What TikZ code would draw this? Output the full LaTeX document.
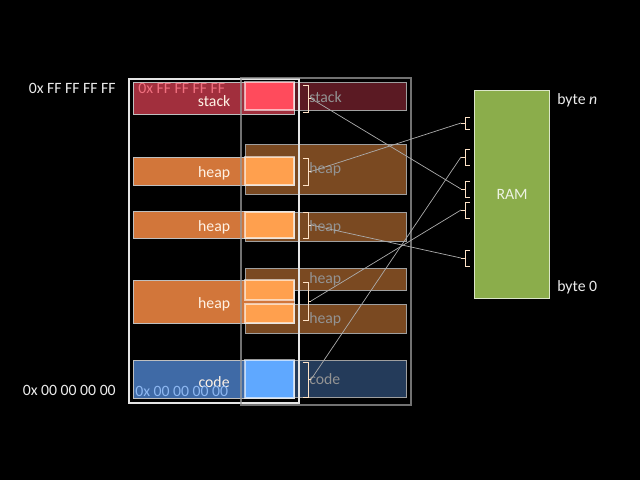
\documentclass[tikz,border=0pt]{standalone}
\usepackage{fontspec}
\setmainfont{Carlito}
\usepackage{tikz}
\usetikzlibrary{positioning}
\definecolor{stackred}{HTML}{A12F3D}
\definecolor{stacklit}{HTML}{FF4B5C}
\definecolor{stackdim}{HTML}{5B1A23}
\definecolor{heaporg}{HTML}{D2763A}
\definecolor{heaplit}{HTML}{FFA04E}
\definecolor{heapdim}{HTML}{7A4921}
\definecolor{codeblue}{HTML}{3F6AA6}
\definecolor{codelit}{HTML}{5FA8FF}
\definecolor{codedim}{HTML}{243B5A}
\definecolor{ramgreen}{HTML}{8BAD4B}
\definecolor{addrpink}{HTML}{F0707F}
\definecolor{addrblue}{HTML}{8EB8F2}
\tikzset{
	x=0.025cm, y=-0.025cm, % one unit is one pixel, y runs downwards
	every node/.style={font=\fontsize{11.2}{13}\selectfont, inner sep=0pt}, % all text in one size
	seg/.style 2 args={anchor=north west, minimum width=#1*0.025cm, minimum height=#2*0.025cm}, % box of #1 x #2 pixels
	vbox/.style={draw=white!75!black, line width=0.9pt, text=white!90!orange}, % segment in the left column
	pbox/.style={draw=gray!75!white, line width=1pt}, % segment in the right column
	lit/.style={draw=white, draw opacity=0.6, line width=0.8pt}, % where both columns overlap
	dimtxt/.style={text=gray!85!white}, % labels of the right column
	txt/.style={text=white!92!black}, % plain white labels
	brak/.style={draw=white!78!orange, line width=0.6pt}, % brackets
	link/.style={draw=gray!65!white, line width=0.5pt}, % mapping lines
}

\begin{document}
\begin{tikzpicture}
	\fill[black] (0,0) rectangle (640,480);
	\useasboundingbox (0,0) rectangle (640,480);

	% right column
	\foreach \n/\y/\h/\c/\t in {stack/82/28/stackdim/stack, heap1/144/50/heapdim/heap, heap2/212/29/heapdim/heap, heap3/268/22/heapdim/heap, heap4/304/29/heapdim/heap, code/360/37/codedim/code}
	{
		\node[pbox, fill=\c, seg={161}{\h}] (r\n) at (245,\y) {};
		\node[dimtxt, anchor=west] (t\n) at ([xshift=1.6cm]r\n.west) {\t};
	}

	% left column
	\foreach \n/\y/\h/\c/\t in {stack/82/32/stackred/stack, heap1/157/28/heaporg/heap, heap2/211/27/heaporg/heap, heap3/280/43/heaporg/heap, code/360/38/codeblue/code}
	{
		\node[vbox, fill=\c, seg={161}{\h}] (l\n) at (133,\y) {};
		\node[text=white!90!orange] (w\n) at ([yshift=-0.05cm]l\n.center) {\t};
	}

	% overlap
	\foreach \y/\h/\c in {82/28/stacklit, 157/28/heaplit, 212/26/heaplit, 280/20/heaplit, 304/19/heaplit, 360/38/codelit}
		\path[lit, fill=\c] (245,\y) rectangle ++(49,\h);

	\node[anchor=west, text=addrpink] (ptop) at ([xshift=0.125cm, yshift=-0.15cm]lstack.north west) {0x FF FF FF FF};
	\node[anchor=west, text=addrblue] (pbot) at ([xshift=0.05cm, yshift=0.2cm]lcode.south west) {0x 00 00 00 00};
	\node[txt, anchor=east] (top) at (116,88) {0x FF FF FF FF};
	\node[txt, anchor=east] (bot) at (116,390) {0x 00 00 00 00};

	% frames
	\node[draw=white!90!black, line width=1.1pt, seg={170}{324}] (vframe) at (128,78) {};
	\node[draw=gray!80!white, line width=1.1pt, draw opacity=0.75, seg={170}{327}] (pframe) at (240,77) {};

	% RAM
	\node[draw=white!70!ramgreen, line width=0.9pt, fill=ramgreen, text=white!85!ramgreen, seg={75}{208}] (ram) at (474,90) {RAM};
	\node[txt, anchor=west] (byten) at (557,100) {byte \textit{n}};
	\node[txt, anchor=west] (byte0) at (557,287) {byte 0};

	% brackets
	\foreach \t/\b/\n in {85/112/bs, 158/185/bh1, 212/238/bh2, 282/320/bh3, 362/397/bc}
		\draw[brak] (303,\t) -- (308,\t) -- (308,\b) -- (303,\b) (308,{(\t+\b)/2}) -- (311,{(\t+\b)/2}) coordinate (\n);
	\foreach \t/\b/\n in {117/129/m1, 149/165/m2, 181/197/m3, 202/218/m4, 250/266/m5}
		\draw[brak] (470,\t) -- (465,\t) -- (465,\b) -- (470,\b) (465,{(\t+\b)/2}) -- (461,{(\t+\b)/2}) coordinate (\n);

	% mapping
	\foreach \a/\b in {bs/m3, bh1/m1, bh2/m5, bh3/m4, bc/m2}
		\draw[link] (\a) -- (\b);
\end{tikzpicture}
\end{document}
